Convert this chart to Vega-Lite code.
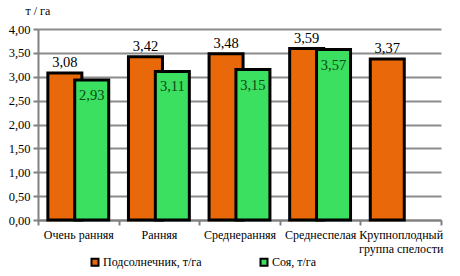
{
  "$schema": "https://vega.github.io/schema/vega-lite/v6.json",
  "width": 403,
  "height": 191,
  "autosize": "none",
  "padding": {"left": 38, "top": 29, "right": 19, "bottom": 56},
  "background": "white",
  "config": {
    "locale": {"number": {"decimal": ",", "thousands": " ", "grouping": [3], "currency": ["", ""]}},
    "view": {"stroke": null},
    "font": "Liberation Serif"
  },
  "data": {
    "values": [
      {"group": "Очень ранняя", "crop": "Подсолнечник, т/га", "value": 3.08},
      {"group": "Ранняя", "crop": "Подсолнечник, т/га", "value": 3.42},
      {"group": "Среднеранняя", "crop": "Подсолнечник, т/га", "value": 3.48},
      {"group": "Среднеспелая", "crop": "Подсолнечник, т/га", "value": 3.59},
      {"group": "Крупноплодный группа спелости", "crop": "Подсолнечник, т/га", "value": 3.37},
      {"group": "Очень ранняя", "crop": "Соя, т/га", "value": 2.93},
      {"group": "Ранняя", "crop": "Соя, т/га", "value": 3.11},
      {"group": "Среднеранняя", "crop": "Соя, т/га", "value": 3.15},
      {"group": "Среднеспелая", "crop": "Соя, т/га", "value": 3.57}
    ]
  },
  "encoding": {
    "x": {
      "field": "group", "type": "nominal", "sort": null,
      "scale": {"paddingInner": 0, "paddingOuter": 0},
      "axis": {
        "title": null, "labelAngle": 0, "labelFontSize": 12, "labelColor": "black",
        "labelFont": "Liberation Serif", "labelPadding": 4, "labelLineHeight": 14,
        "labelExpr": "datum.label == 'Крупноплодный группа спелости' ? ['Крупноплодный', 'группа спелости'] : datum.label",
        "tickBand": "extent", "tickColor": "#808080", "tickWidth": 2, "tickSize": 5,
        "domainColor": "#808080", "domainWidth": 2
      }
    },
    "xOffset": {
      "field": "crop", "type": "nominal",
      "scale": {"paddingInner": 0, "paddingOuter": 0.5}
    },
    "y": {
      "field": "value", "type": "quantitative",
      "scale": {"domain": [0, 4]},
      "axis": {
        "values": [0, 0.5, 1, 1.5, 2, 2.5, 3, 3.5, 4], "format": ".2f",
        "labelFontSize": 12.5, "labelColor": "black", "labelFont": "Liberation Serif",
        "labelPadding": 3,
        "grid": true, "gridColor": "#8c8c8c", "gridWidth": 2,
        "tickColor": "#808080", "tickWidth": 2, "tickSize": 5,
        "domainColor": "#808080", "domainWidth": 2,
        "title": "т / га", "titleAngle": 0, "titleAlign": "left", "titleBaseline": "middle",
        "titleX": -13, "titleY": -19, "titleFontSize": 12, "titleFontWeight": "normal",
        "titleFont": "Liberation Serif", "titleColor": "black"
      }
    }
  },
  "layer": [
    {
      "mark": {"type": "bar", "width": 34, "stroke": "black", "strokeWidth": 3},
      "encoding": {
        "color": {
          "field": "crop", "type": "nominal",
          "scale": {"domain": ["Подсолнечник, т/га", "Соя, т/га"], "range": ["#E8680A", "#3CE060"]},
          "legend": {
            "title": null, "orient": "none", "direction": "horizontal",
            "legendX": 51, "legendY": 227,
            "symbolType": "square", "symbolSize": 49, "symbolStrokeColor": "black",
            "symbolStrokeWidth": 2, "labelFontSize": 12, "labelFont": "Liberation Serif",
            "labelColor": "black", "columnPadding": 54, "labelOffset": 2
          }
        }
      }
    },
    {
      "transform": [{"filter": "datum.crop == 'Подсолнечник, т/га'"}],
      "mark": {"type": "text", "baseline": "bottom", "dy": -3, "fontSize": 14.5, "font": "Liberation Serif", "color": "black"},
      "encoding": {"text": {"field": "value", "type": "quantitative", "format": ".2f"}}
    },
    {
      "transform": [{"filter": "datum.crop == 'Соя, т/га'"}],
      "mark": {"type": "text", "baseline": "top", "dy": 9, "fontSize": 14.5, "font": "Liberation Serif", "color": "#0a4a14"},
      "encoding": {"text": {"field": "value", "type": "quantitative", "format": ".2f"}}
    }
  ]
}
